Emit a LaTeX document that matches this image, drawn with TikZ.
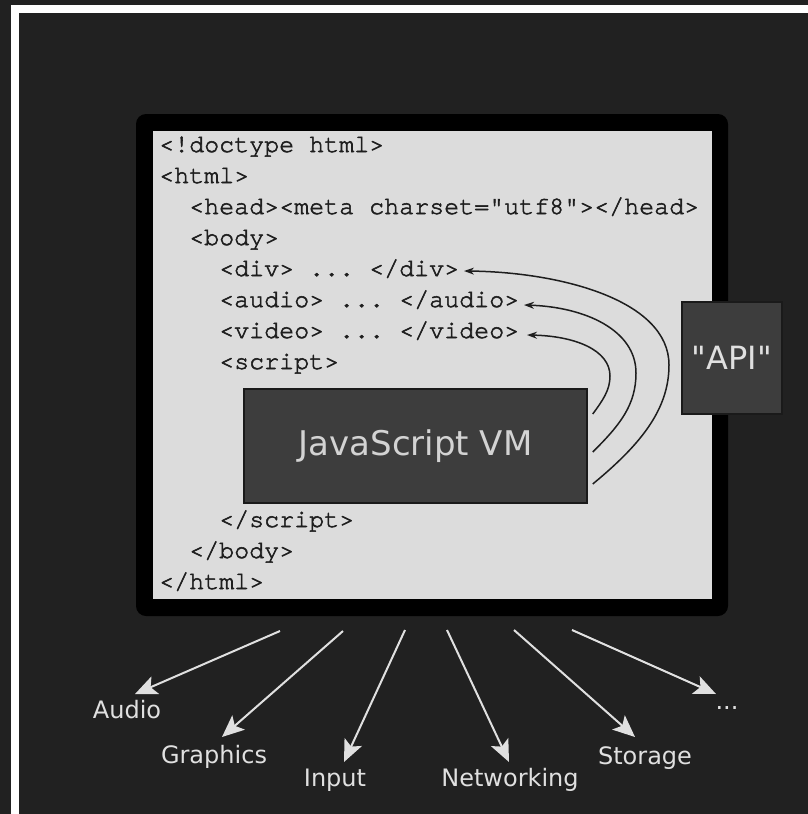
\documentclass[tikz,border=0pt]{standalone}
\usepackage{fontspec}
\newfontfamily\dejavu{DejaVu Sans}
\newfontfamily\codefont[FakeBold=2.2]{TeX Gyre Cursor}
\usetikzlibrary{arrows.meta}
\definecolor{bg}{HTML}{212121}
\definecolor{pagegray}{HTML}{DCDCDC}
\definecolor{boxfill}{HTML}{3D3D3D}
\definecolor{boxline}{HTML}{1A1A1A}
\definecolor{lite}{HTML}{E0E0E0}
\definecolor{ink}{HTML}{1E1E1E}
\tikzset{
  codeline/.style={anchor=base west, inner sep=0pt, font=\codefont\fontsize{25}{25}\selectfont\frenchspacing, text=ink},
  darkbox/.style={draw=boxline, line width=1.5pt, fill=boxfill, text=lite, inner sep=0pt},
  apiarrow/.style={draw=ink, line width=1.5pt, -{Stealth[length=10pt,width=7pt]}},
  ioarrow/.style={draw=lite, line width=2pt, -{Stealth[length=22pt,width=19pt,inset=5pt]}},
  iolabel/.style={anchor=base, text=lite, font=\dejavu\fontsize{24}{24}\selectfont, inner sep=0pt},
}
\begin{document}
\begin{tikzpicture}[x=1pt,y=-1pt]
\fill[bg] (0,0) rectangle (808,814);
\useasboundingbox (0,0) rectangle (808,814);
% white L-shaped border
\fill[white] (11,5) rectangle (808,13);
\fill[white] (11,5) rectangle (19,814);
% document frame
\fill[black, rounded corners=10pt] (136,114) rectangle (728,616);
\fill[pagegray] (153,131) rectangle (712,599);
% code lines
\node[codeline] (l1) at (159,152) {<!doctype html>};
\node[codeline] (l2) at (159,183) {<html>};
\node[codeline] (l3) at (189,214) {<head><meta charset="utf8"></head>};
\node[codeline] (l4) at (189,245) {<body>};
\node[codeline] (l5) at (219,276) {<div> ... </div>};
\node[codeline] (l6) at (219,307) {<audio> ... </audio>};
\node[codeline] (l7) at (219,338) {<video> ... </video>};
\node[codeline] (l8) at (219,369) {<script>};
\node[codeline] (l9) at (219,527) {</script>};
\node[codeline] (l10) at (189,558) {</body>};
\node[codeline] (l11) at (159,589) {</html>};
% boxes
\node[darkbox, minimum width=343pt, minimum height=114pt, text=lite!92!boxfill, font=\dejavu\fontsize{34}{34}\selectfont] (vm) at (415.5,446) {JavaScript VM};
\node[darkbox, minimum width=100pt, minimum height=112pt, font=\dejavu\fontsize{32}{32}\selectfont] (api) at (732,358) {"API"};
% curved arrows
\coordinate (s1) at ([shift={(5,38)}]vm.east);
\coordinate (s2) at ([shift={(5,6)}]vm.east);
\coordinate (s3) at ([shift={(5,-32)}]vm.east);
\coordinate (t1) at (464,271);
\coordinate (t2) at (524,305);
\coordinate (t3) at (527,335);
\draw[apiarrow] (s1) .. controls (640,445) and (669,410) .. (669,365) .. controls (669,300) and (560,272) .. (t1);
\draw[apiarrow] (s2) .. controls (620,425) and (636,405) .. (636,373) .. controls (636,330) and (585,307) .. (t2);
\draw[apiarrow] (s3) .. controls (603,400) and (610,390) .. (610,376) .. controls (610,350) and (575,336) .. (t3);
% bottom labels
\node[iolabel] (audio) at (127,718) {Audio};
\node[iolabel] (graphics) at (214,763) {Graphics};
\node[iolabel] (input) at (335,786) {Input};
\node[iolabel] (net) at (510,786) {Networking};
\node[iolabel] (storage) at (645,764) {Storage};
\node[iolabel] (more) at (727,709) {...};
% bottom arrows
\coordinate (b1) at (280,631); \coordinate (e1) at (135,694);
\coordinate (b2) at (343,631); \coordinate (e2) at (222,737);
\coordinate (b3) at (405,630); \coordinate (e3) at (344,762);
\coordinate (b4) at (447,630); \coordinate (e4) at (509,762);
\coordinate (b5) at (514,630); \coordinate (e5) at (635,737);
\coordinate (b6) at (572,630); \coordinate (e6) at (716,694);
\draw[ioarrow] (b1) -- (e1);
\draw[ioarrow] (b2) -- (e2);
\draw[ioarrow] (b3) -- (e3);
\draw[ioarrow] (b4) -- (e4);
\draw[ioarrow] (b5) -- (e5);
\draw[ioarrow] (b6) -- (e6);
\end{tikzpicture}
\end{document}
